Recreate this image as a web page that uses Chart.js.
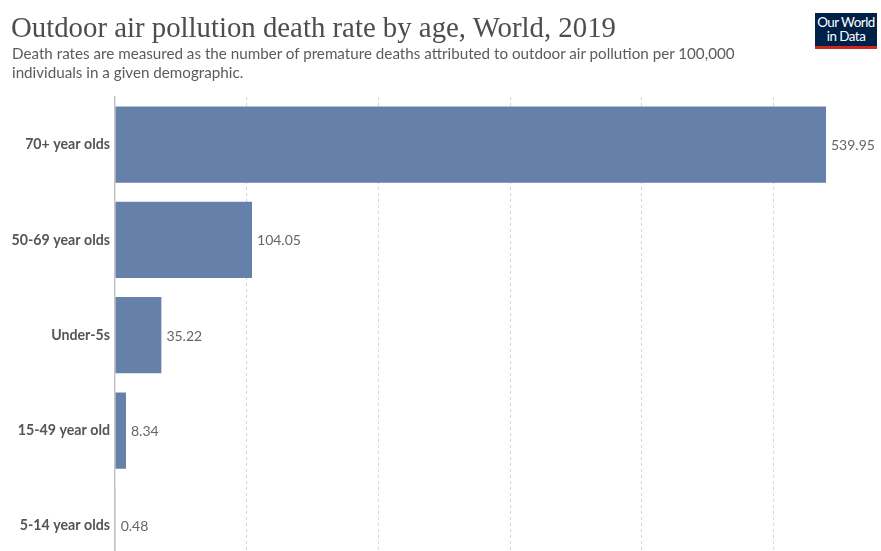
<!DOCTYPE html>
<html>
<head>
<meta charset="utf-8">
<script src="https://cdn.jsdelivr.net/npm/chart.js@4"></script>
<style>
  html, body { margin: 0; padding: 0; background: #fff; overflow: hidden; width: 881px; height: 551px; }
  #title { position: absolute; left: 11px; top: 11px; font-family: "Liberation Serif", "DejaVu Serif", serif; font-size: 28.8px; line-height: 33px; color: #4d4d4d; white-space: nowrap; }
  #subtitle { position: absolute; left: 12px; top: 44px; font-family: Lato, "Open Sans", sans-serif; font-size: 15.2px; line-height: 19px; color: #5b5b5b; width: 780px; }
  #logo { position: absolute; left: 815px; top: 13px; width: 62px; height: 36px; background: #002147; border-bottom: 3px solid #ce261e; box-sizing: border-box; color: #fff; font-family: Lato, sans-serif; font-size: 13.4px; line-height: 13.5px; text-align: center; padding-top: 3px; letter-spacing: -0.5px; }
  #wrap { position: absolute; left: 0; top: 0; width: 881px; height: 587px; }
</style>
</head>
<body>
<div id="wrap"><canvas id="c"></canvas></div>
<div id="title">Outdoor air pollution death rate by age, World, 2019</div>
<div id="subtitle">Death rates are measured as the number of premature deaths attributed to outdoor air pollution per 100,000 individuals in a given demographic.</div>
<div id="logo">Our World<br>in Data</div>
<script>
// Age groups and death rates per 100,000 (outdoor air pollution, World, 2019)
const ageGroups = ["70+ year olds", "50-69 year olds", "Under-5s", "15-49 year old", "5-14 year olds"];
const deathRates = [539.95, 104.05, 35.22, 8.34, 0.48];
const gridValues = [0, 100, 200, 300, 400, 500];

const barColor = "#6581aa";

// Writes each bar's value just past its end
const valueLabels = {
  id: "valueLabels",
  afterDatasetsDraw(chart) {
    const ctx = chart.ctx;
    const meta = chart.getDatasetMeta(0);
    ctx.save();
    ctx.font = "14px Lato, sans-serif";
    ctx.fillStyle = "#666";
    ctx.textAlign = "left";
    ctx.textBaseline = "middle";
    meta.data.forEach((bar, i) => {
      ctx.fillText(deathRates[i].toFixed(2), bar.x + 5, bar.y + 1);
    });
    ctx.restore();
  }
};

new Chart(document.getElementById("c"), {
  type: "bar",
  data: {
    labels: ageGroups,
    datasets: [{
      data: deathRates,
      backgroundColor: barColor,
      borderWidth: 0,
      barPercentage: 0.8,
      categoryPercentage: 1.0
    }]
  },
  options: {
    indexAxis: "y",
    responsive: true,
    maintainAspectRatio: false,
    animation: false,
    events: [],
    layout: { padding: { top: 97, right: 55, bottom: 0, left: 0 } },
    plugins: { legend: { display: false }, tooltip: { enabled: false } },
    scales: {
      x: {
        min: 0,
        max: Math.max(...deathRates),
        afterBuildTicks(scale) { scale.ticks = gridValues.map(v => ({ value: v })); },
        ticks: { display: false },
        grid: {
          drawTicks: false,
          lineWidth: 1,
          color: (c) => (c.tick && c.tick.value > 0) ? "#d6d6d6" : "rgba(0,0,0,0)"
        },
        border: { display: false, dash: [3, 3] }
      },
      y: {
        afterFit(scale) { scale.width = 115; },
        ticks: {
          padding: 5,
          color: "#555",
          font: { family: "Lato, sans-serif", size: 14.2, weight: "bold" }
        },
        grid: { display: false, drawTicks: false },
        border: { display: true, color: "#c4c4c4", width: 1.5 }
      }
    }
  },
  plugins: [valueLabels]
});
</script>
</body>
</html>
